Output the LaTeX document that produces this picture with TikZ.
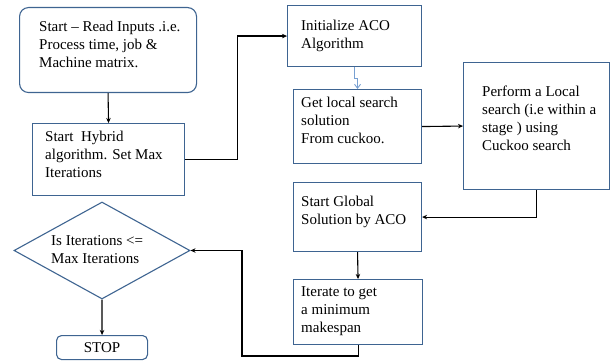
\documentclass[tikz,border=0pt]{standalone}
\usepackage{fontspec}
\setmainfont{Liberation Serif}
\usepackage{tikz}
\usetikzlibrary{positioning}
\usetikzlibrary{arrows.meta}
\usetikzlibrary{shapes.geometric}
\definecolor{boxblue}{RGB}{62,100,145}
\definecolor{lightblue}{RGB}{120,160,210}

\tikzset{
  box/.style={draw=boxblue, line width=1.1pt, anchor=north west, inner sep=0pt},
  rbox/.style={box, rounded corners=9pt},
  lbl/.style={align=left, inner sep=0pt, font=\fontsize{15}{18}\selectfont},
  flow/.style={-{Stealth[length=5pt,width=4.5pt]}, line width=1.1pt, black},
}

\begin{document}
\begin{tikzpicture}[x=1pt, y=-1pt]

    \useasboundingbox (0,0) rectangle (611,361);

    % Left column
    \node[rbox, minimum width=177pt, minimum height=85pt] (start) at (19,7) {};
    \node[lbl, below right=14pt and 20pt of start.north west] (starttxt)
        {Start -- Read Inputs .i.e.\\Process time, job \&\\Machine matrix.};

    \node[box, minimum width=152pt, minimum height=72pt] (hyb) at (32,123) {};
    \node[lbl, below right=8pt and 13pt of hyb.north west] (hybtxt)
        {Start\ \ Hybrid\\algorithm. Set Max\\Iterations};

    % Middle column
    \node[box, minimum width=134pt, minimum height=61pt] (init) at (287,5) {};
    \node[lbl, below right=15pt and 14pt of init.north west] (inittxt)
        {Initialize ACO\\Algorithm};

    \node[box, minimum width=128pt, minimum height=74pt] (getl) at (293,89) {};
    \node[lbl, below right=8pt and 8pt of getl.north west] (getltxt)
        {Get local search\\solution\\From cuckoo.};

    \node[box, minimum width=128pt, minimum height=69pt] (glob) at (293,182) {};
    \node[lbl, below right=14pt and 8pt of glob.north west] (globtxt)
        {Start Global\\Solution by ACO};

    \node[box, minimum width=129pt, minimum height=65pt] (iter) at (293,279) {};
    \node[lbl, below right=7pt and 8pt of iter.north west] (itertxt)
        {Iterate to get\\a minimum\\makespan};

    % Right column
    \node[box, minimum width=146pt, minimum height=127pt] (perf) at (463,62) {};
    \node[lbl, below right=24pt and 19pt of perf.north west] (perftxt)
        {Perform a Local\\search (i.e within a\\stage ) using\\Cuckoo search};

    % Decision and stop
    \node[draw=boxblue, line width=1.1pt, diamond, minimum width=176pt,
          minimum height=97pt, inner sep=0pt] (dia) at (102,250.5) {};
    \node[lbl, anchor=north west] (diatxt) at (51,235)
        {Is Iterations <=\\Max Iterations};

    \node[rbox, rounded corners=5pt, minimum width=91pt, minimum height=24pt] (stop) at (56,335) {};
    \node[lbl, anchor=center] (stoptxt) at (stop.center) {STOP};

    % Connectors
    \coordinate (loopc) at (242,356);

    \draw[flow] (start.south) -- (hyb.north);
    \draw[flow] (hyb.east) -- ++(52,0) |- (init.west);
    \draw[-{Straight Barb[length=4pt,width=6pt]}, lightblue, line width=0.9pt]
        (init.south) -- ++(0,11) -| (getl.north);
    \draw[flow] (getl.east) -- (perf.west);
    \draw[flow] (perf.south) |- (glob.east);
    \draw[flow] (glob.south) -- (iter.north);
    \draw[flow] (iter.south) |- (loopc) |- (dia.east);
    \draw[flow] (dia.south) -- (stop.north);

\end{tikzpicture}
\end{document}
